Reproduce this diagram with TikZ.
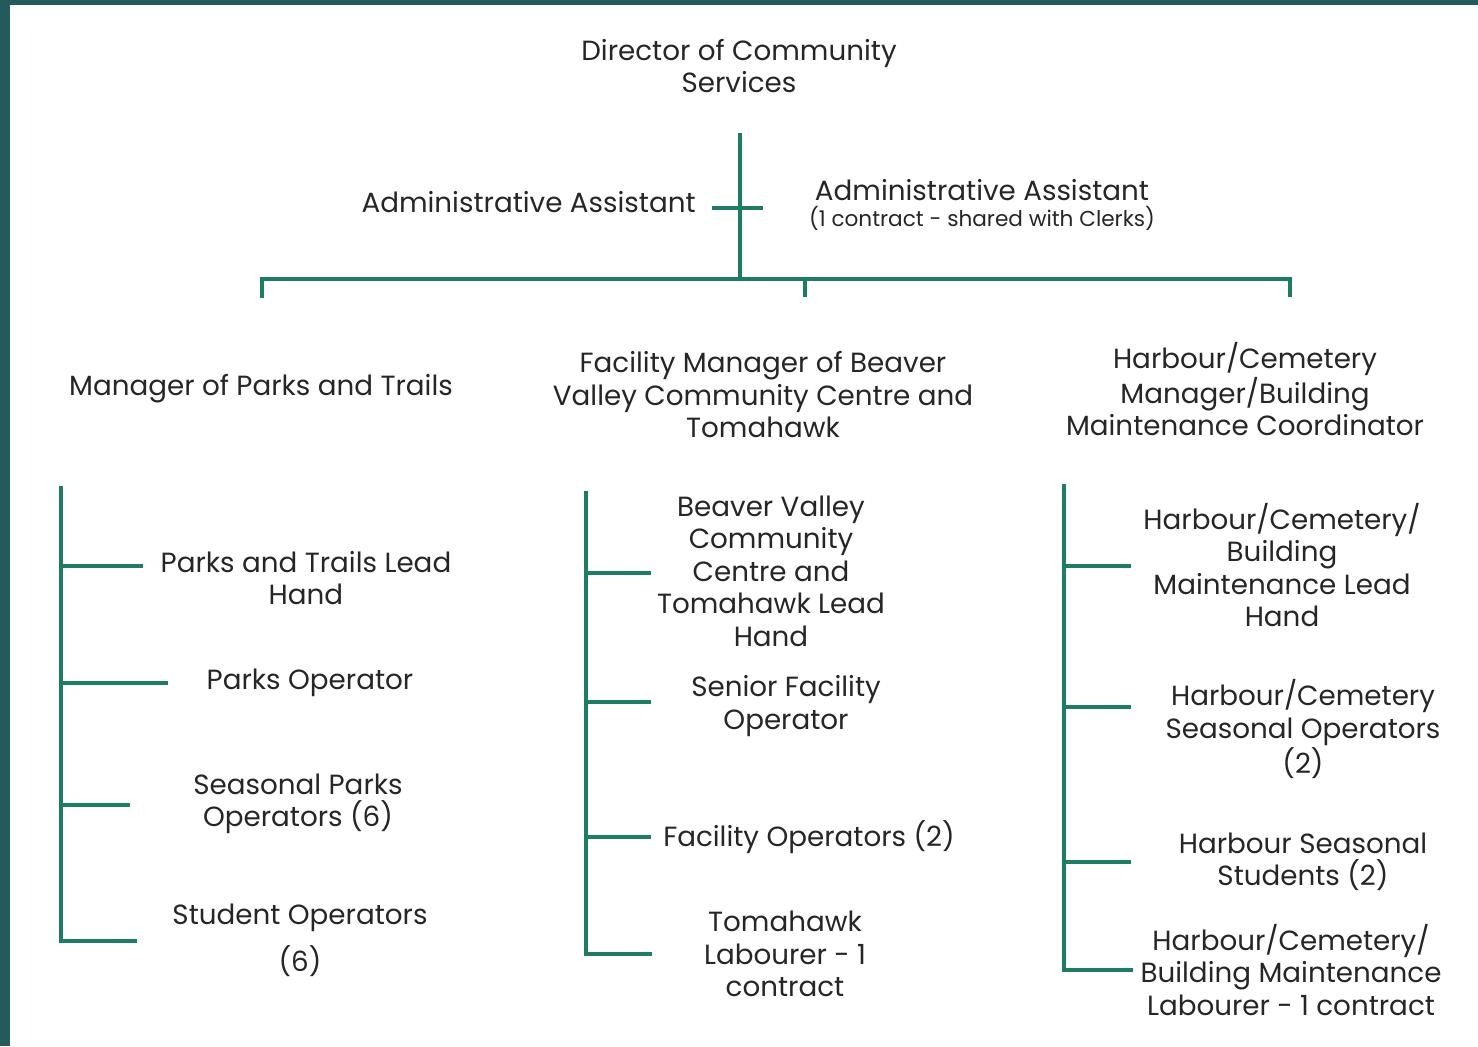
\documentclass[tikz,border=0pt]{standalone}
\usepackage{fontspec}
\setmainfont{Poppins}
\usetikzlibrary{positioning}
\definecolor{orgline}{HTML}{1E7B64}
\definecolor{frame}{HTML}{235A5C}
\definecolor{orgtext}{HTML}{262626}

\begin{document}
\begin{tikzpicture}[x=0.02cm, y=-0.02cm,
   every node/.style={text=orgtext, align=center, inner sep=0pt,
     font=\fontsize{15.8}{18.5}\selectfont},
   orgedge/.style={draw=orgline, line width=2.3pt},
   small/.style={font=\fontsize{12.3}{14}\selectfont}]
   \useasboundingbox (0,0) rectangle (1478,1046);
   \fill[white] (0,0) rectangle (1478,1046);
   \fill[frame] (0,0) rectangle (10,1046);
   \fill[frame] (0,0) rectangle (1478,5);

   % top of the chart
   \node (dir) at (739,66) {Director of Community\\Services};
   \node (adm) [anchor=east] at (696,202) {Administrative Assistant};
   \node (adm2) at (982,190) {Administrative Assistant};
   \node[small] (adm2c) [below=3pt of adm2] {(1 contract - shared with Clerks)};

   \coordinate (top) at (740,133);
   \coordinate (bus) at (740,279);
   \coordinate (xl) at (712,208);
   \coordinate (xr) at (763,208);
   \coordinate (busl) at (262,279);
   \coordinate (busm) at (805,279);
   \coordinate (busr) at (1290,279);
   \coordinate (dropl) at (262,298);
   \coordinate (dropm) at (805,297);
   \coordinate (dropr) at (1290,297);

   \draw[orgedge] (top) -- (bus);
   \draw[orgedge] (xl) -- (xr);
   \draw[orgedge] (dropl) -- (busl) -- (busr) -- (dropr);
   \draw[orgedge] (busm) -- (dropm);

   % managers
   \node (parks) at (261,389) {Manager of Parks and Trails};
   \node (fac) at (763,395) {Facility Manager of Beaver\\Valley Community Centre and\\Tomahawk};
   \node (harb) at (1245,389) {Harbour/Cemetery\\Manager/Building\\Maintenance Coordinator};

   % parks and trails
   \node (p1) at (306,578) {Parks and Trails Lead\\Hand};
   \node (p2) at (310,683) {Parks Operator};
   \node (p3) at (298,804) {Seasonal Parks\\Operators (6)};
   \node (p4) at (300,940) {Student Operators\\[7pt](6)};
   \coordinate (pt) at (61,486);
   \coordinate (pb) at (61,941);
   \draw[orgedge] (pt) -- (pb) -- (137,941);
   \draw[orgedge] (61,566) -- (143,566);
   \draw[orgedge] (61,683) -- (168,683);
   \draw[orgedge] (61,805) -- (130,805);

   % facility
   \node (f1) at (771,571) {Beaver Valley\\Community\\Centre and\\Tomahawk Lead\\Hand};
   \node (f2) at (786,706) {Senior Facility\\Operator};
   \node (f3) at (809,837) {Facility Operators (2)};
   \node (f4) at (785,954) {Tomahawk\\Labourer - 1\\contract};
   \coordinate (ft) at (586,491);
   \coordinate (fb) at (586,954);
   \draw[orgedge] (ft) -- (fb) -- (652,954);
   \draw[orgedge] (586,573) -- (651,573);
   \draw[orgedge] (586,702) -- (651,702);
   \draw[orgedge] (586,837) -- (651,837);

   % harbour and cemetery
   \node (h1) at (1282,565) {Harbour/Cemetery/\\Building\\Maintenance Lead\\Hand};
   \node (h2) at (1303,729) {Harbour/Cemetery\\Seasonal Operators\\(2)};
   \node (h3) at (1303,862) {Harbour Seasonal\\Students (2)};
   \node (h4) at (1291,970) {Harbour/Cemetery/\\Building Maintenance\\Labourer - 1 contract};
   \coordinate (ht) at (1064,484);
   \coordinate (hb) at (1064,970);
   \draw[orgedge] (ht) -- (hb) -- (1133,970);
   \draw[orgedge] (1064,566) -- (1131,566);
   \draw[orgedge] (1064,707) -- (1131,707);
   \draw[orgedge] (1064,862) -- (1131,862);
\end{tikzpicture}
\end{document}
